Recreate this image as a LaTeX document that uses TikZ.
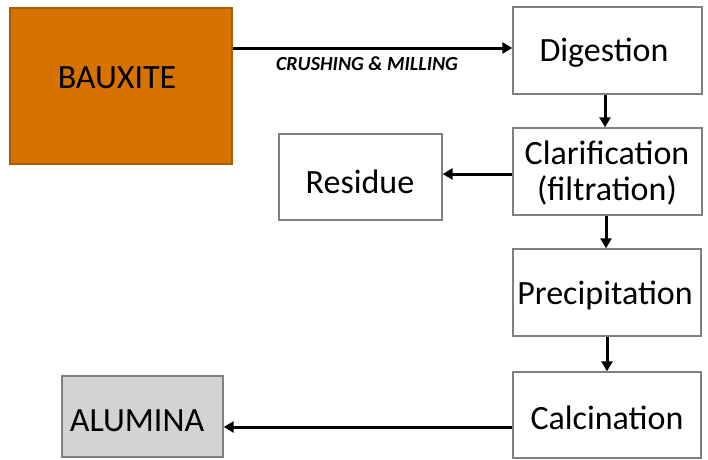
\documentclass[tikz,border=0pt]{standalone}
\usepackage{fontspec}
\setmainfont{Carlito}
\usetikzlibrary{arrows.meta}
\definecolor{bauxorange}{RGB}{214,114,0}
\definecolor{bauxedge}{RGB}{170,90,0}
\definecolor{alugray}{RGB}{211,211,211}
\definecolor{boxedge}{RGB}{128,128,128}
\begin{document}
\begin{tikzpicture}[x=1pt,y=-1pt,
  procbox/.style={draw=boxedge, line width=1.4pt, fill=white, inner sep=0pt},
  boxtext/.style={inner sep=0pt, font=\fontsize{34}{38}\selectfont, align=center},
  flow/.style={draw=black, line width=3pt, -{Triangle[length=10pt,width=11pt]}}]
\useasboundingbox (0,0) rectangle (708,459);
\node[procbox, fill=bauxorange, draw=bauxedge, minimum width=222pt, minimum height=156pt] (baux) at (121,86) {};
\node[procbox, minimum width=189pt, minimum height=87pt] (dig) at (607.5,50.5) {};
\node[procbox, minimum width=189pt, minimum height=87pt] (clar) at (607.5,171.5) {};
\node[procbox, minimum width=163pt, minimum height=86pt] (res) at (360.5,177) {};
\node[procbox, minimum width=188pt, minimum height=87pt] (prec) at (607,292.5) {};
\node[procbox, minimum width=188pt, minimum height=86pt] (calc) at (607,415) {};
\node[procbox, fill=alugray, minimum width=161pt, minimum height=81pt] (alu) at (142.5,416.5) {};
\node[boxtext] (bauxt) at (117,78) {BAUXITE};
\node[boxtext] (digt) at (604,53) {Digestion};
\node[boxtext] (clart) at (607,173) {Clarification\\[-2pt](filtration)};
\node[boxtext] (rest) at (360,182) {Residue};
\node[boxtext] (prect) at (605,295) {Precipitation};
\node[boxtext] (calct) at (607,418) {Calcination};
\node[boxtext] (alut) at (137,421) {ALUMINA};
\draw[flow] (baux.east |- 0,48) -- (dig.west |- 0,48);
\node[font=\fontsize{20}{22}\selectfont\bfseries\itshape, inner sep=0pt] (lbl) at (367,64) {CRUSHING \& MILLING};
\draw[flow] (dig.south -| 605,0) -- (clar.north -| 605,0);
\draw[flow] (clar.west |- 0,174) -- (res.east |- 0,174);
\draw[flow] (clar.south -| 606,0) -- (prec.north -| 606,0);
\draw[flow] (prec.south -| 607,0) -- (calc.north -| 607,0);
\draw[flow] (calc.west |- 0,427) -- (alu.east |- 0,427);
\end{tikzpicture}
\end{document}
